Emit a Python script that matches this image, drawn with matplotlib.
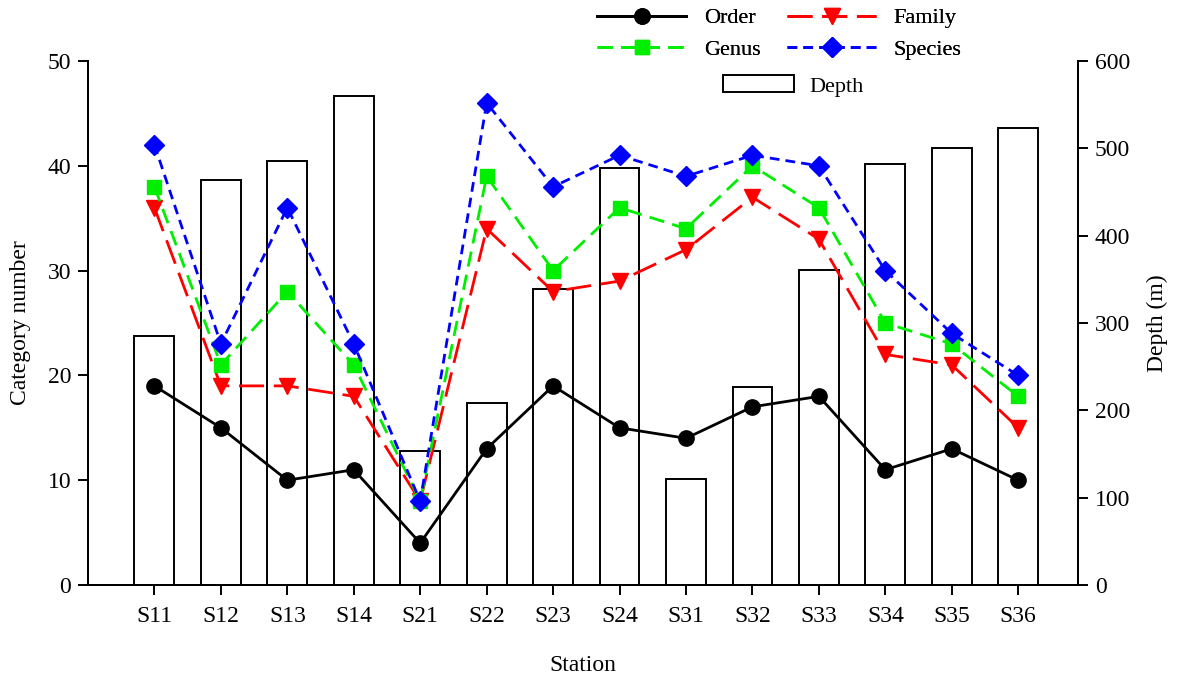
import numpy as np
import matplotlib
matplotlib.use('Agg')
import matplotlib.pyplot as plt
from matplotlib.patches import Patch

plt.rcParams['font.family'] = ['Liberation Serif', 'DejaVu Serif']

stations = ['S11', 'S12', 'S13', 'S14', 'S21', 'S22', 'S23',
            'S24', 'S31', 'S32', 'S33', 'S34', 'S35', 'S36']
order = [19, 15, 10, 11, 4, 13, 19, 15, 14, 17, 18, 11, 13, 10]
family = [36, 19, 19, 18, 8, 34, 28, 29, 32, 37, 33, 22, 21, 15]
genus = [38, 21, 28, 21, 8, 39, 30, 36, 34, 40, 36, 25, 23, 18]
species = [42, 23, 36, 23, 8, 46, 38, 41, 39, 41, 40, 30, 24, 20]
depth = [285, 464, 486, 560, 154, 208, 339, 478, 121, 227, 361, 482, 500, 523]

x = np.arange(len(stations))

fig = plt.figure(figsize=(11.81, 6.76), dpi=100)
ax = fig.add_axes([0.0745, 0.1346, 0.8383, 0.7752])
ax2 = ax.twinx()

# bars on the right axis, lines drawn on top
ax2.bar(x, depth, width=0.6, facecolor='white', edgecolor='black',
        linewidth=1.4, label='Depth')
ax.set_zorder(ax2.get_zorder() + 1)
ax.patch.set_visible(False)

lw = 2.0
l1, = ax.plot(x, order, color='black', lw=lw, marker='o', ms=11, label='Order')
l2, = ax.plot(x, family, color='#ff0000', lw=lw, marker='v', ms=11,
              dashes=(9, 3.5), label='Family')
l3, = ax.plot(x, genus, color='#00ee00', lw=lw, marker='s', ms=10,
              dashes=(5.5, 3), label='Genus')
l4, = ax.plot(x, species, color='#0000ff', lw=lw, marker='D', ms=10,
              dashes=(3.5, 2.2), label='Species')

ax.set_xlim(-1.0, 13.9)
ax.set_ylim(0, 50)
ax2.set_ylim(0, 600)
ax.set_yticks(range(0, 51, 10))
ax2.set_yticks(range(0, 601, 100))
ax.set_xticks(x)
ax.set_xticklabels(stations)

for a in (ax, ax2):
    a.spines['top'].set_visible(False)
    for s in a.spines.values():
        s.set_linewidth(1.4)
    a.tick_params(direction='out', length=7, width=1.4, labelsize=17)
ax.tick_params(axis='x', pad=8)
ax.tick_params(axis='y', pad=5)
ax2.tick_params(axis='y', pad=5)

ax.set_xlabel('Station', fontsize=17, labelpad=20)
ax.set_ylabel('Category number', fontsize=17, labelpad=12)
ax2.set_ylabel('Depth (m)', fontsize=17, labelpad=12)

# column-major fill: Order/Genus in col 1, Family/Species in col 2
leg1 = fig.legend([l1, l3, l2, l4], ['Order', 'Genus', 'Family', 'Species'],
                  ncol=2, loc='upper center', bbox_to_anchor=(0.66, 1.018),
                  frameon=False, fontsize=16, handlelength=4.0,
                  columnspacing=1.2, labelspacing=0.5, handletextpad=0.8)
leg2 = fig.legend([Patch(facecolor='white', edgecolor='black', linewidth=1.4)],
                  ['Depth'], loc='upper center', bbox_to_anchor=(0.672, 0.918),
                  frameon=False, fontsize=16, handlelength=3.2,
                  handleheight=0.8, handletextpad=0.7)
fig.add_artist(leg1)

plt.savefig('out.png', dpi=100)
